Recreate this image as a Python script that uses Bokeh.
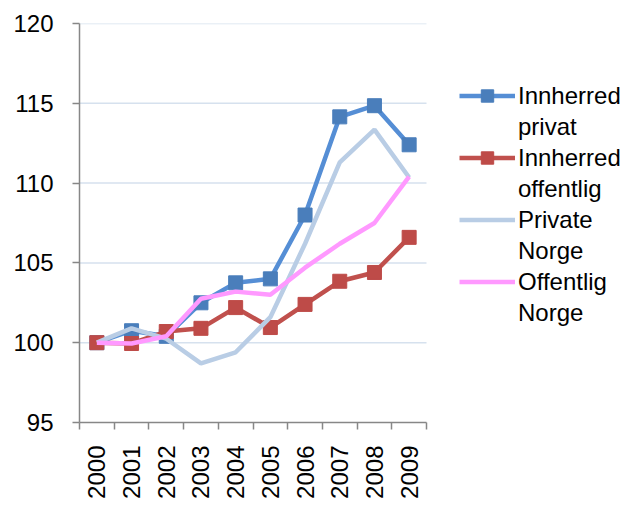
from bokeh.plotting import figure
from bokeh.models import FixedTicker, Legend, LegendItem, Range1d
from bokeh.embed import file_html
from bokeh.resources import INLINE
import math

years = [2000, 2001, 2002, 2003, 2004, 2005, 2006, 2007, 2008, 2009]
innherred_privat = [100.0, 100.75, 100.4, 102.5, 103.75, 104.0, 108.0, 114.15, 114.85, 112.4]
innherred_offentlig = [100.0, 99.95, 100.7, 100.9, 102.2, 100.95, 102.4, 103.85, 104.4, 106.6]
private_norge = [100.0, 100.9, 100.25, 98.7, 99.4, 101.6, 106.2, 111.3, 113.35, 110.35]
offentlig_norge = [100.0, 99.95, 100.4, 102.75, 103.2, 103.0, 104.7, 106.2, 107.5, 110.4]
y_ticks = [95, 100, 105, 110, 115, 120]
labels = [("Innherred", "privat"), ("Innherred", "offentlig"), ("Private", "Norge"), ("Offentlig", "Norge")]

FONT = "Liberation Sans"

# plot area: 347 px for the 10 years, extended to the right to hold the legend
PLOT_W = 347
FRAME_W = 547
x_start = years[0] - 0.5
x_end = x_start + (len(years)) * FRAME_W / PLOT_W

p = figure(width=626, height=497, output_backend="svg", toolbar_location=None,
           x_range=Range1d(x_start, x_end), y_range=Range1d(95, 120))
p.min_border_left = 79
p.min_border_top = 23
p.min_border_right = 0
p.min_border_bottom = 75
p.frame_width = FRAME_W
p.frame_height = 399
p.outline_line_color = None

# horizontal gridlines limited to the category area
g_y = y_ticks[1:]
p.segment(x0=[x_start] * len(g_y), x1=[years[-1] + 0.5] * len(g_y), y0=g_y, y1=g_y,
          line_color="#D6E1EE", line_width=1.5)

LW = 4.5
r1l = p.line(years, innherred_privat, line_color="#558ED5", line_width=LW)
r1m = p.scatter(years, innherred_privat, marker="square", size=14, fill_color="#4A7EBB", line_color="#4A7EBB")
r2l = p.line(years, innherred_offentlig, line_color="#C0504D", line_width=LW)
r2m = p.scatter(years, innherred_offentlig, marker="square", size=14, fill_color="#BE4B48", line_color="#BE4B48")
r3 = p.line(years, private_norge, line_color="#B9CDE5", line_width=LW)
r4 = p.line(years, offentlig_norge, line_color="#FF99FF", line_width=LW)

p.xaxis.bounds = (x_start, years[-1] + 0.5)
p.xaxis.ticker = FixedTicker(ticks=years, minor_ticks=[y - 0.5 for y in years] + [years[-1] + 0.5])
p.xaxis.major_tick_line_color = None
p.xaxis.minor_tick_out = 7
p.xaxis.minor_tick_in = 0
p.xaxis.minor_tick_line_color = "#878787"
p.xaxis.minor_tick_line_width = 1.5
p.xaxis.major_label_orientation = math.pi / 2
p.xaxis.major_label_standoff = 16
p.xaxis.major_label_text_font = FONT
p.xaxis.major_label_text_font_size = "24px"
p.xaxis.major_label_text_color = "black"
p.xaxis.axis_line_color = "#878787"
p.xaxis.axis_line_width = 1.5

p.yaxis.ticker = FixedTicker(ticks=y_ticks, minor_ticks=[])
p.yaxis.major_tick_out = 7
p.yaxis.major_tick_in = 0
p.yaxis.major_tick_line_color = "#878787"
p.yaxis.major_tick_line_width = 1.5
p.yaxis.major_label_standoff = 19
p.yaxis.major_label_text_font = FONT
p.yaxis.major_label_text_font_size = "24px"
p.yaxis.major_label_text_color = "black"
p.yaxis.axis_line_color = "#878787"
p.yaxis.axis_line_width = 1.5

p.xgrid.grid_line_color = None
p.ygrid.grid_line_color = None

items = []
for (first, second), rs in zip(labels, [[r1l, r1m], [r2l, r2m], [r3], [r4]]):
    items.append(LegendItem(label=first, renderers=rs))
    items.append(LegendItem(label=second, renderers=[]))

legend = Legend(items=items, location=(380, 94))
legend.label_text_font = FONT
legend.label_text_font_size = "24px"
legend.label_text_color = "black"
legend.glyph_width = 56
legend.glyph_height = 31
legend.label_height = 24
legend.label_standoff = 3
legend.spacing = 0
legend.padding = 0
legend.margin = 0
legend.border_line_color = None
legend.background_fill_alpha = 0
p.add_layout(legend, "center")

open("out.html", "w").write(file_html(p, INLINE))
